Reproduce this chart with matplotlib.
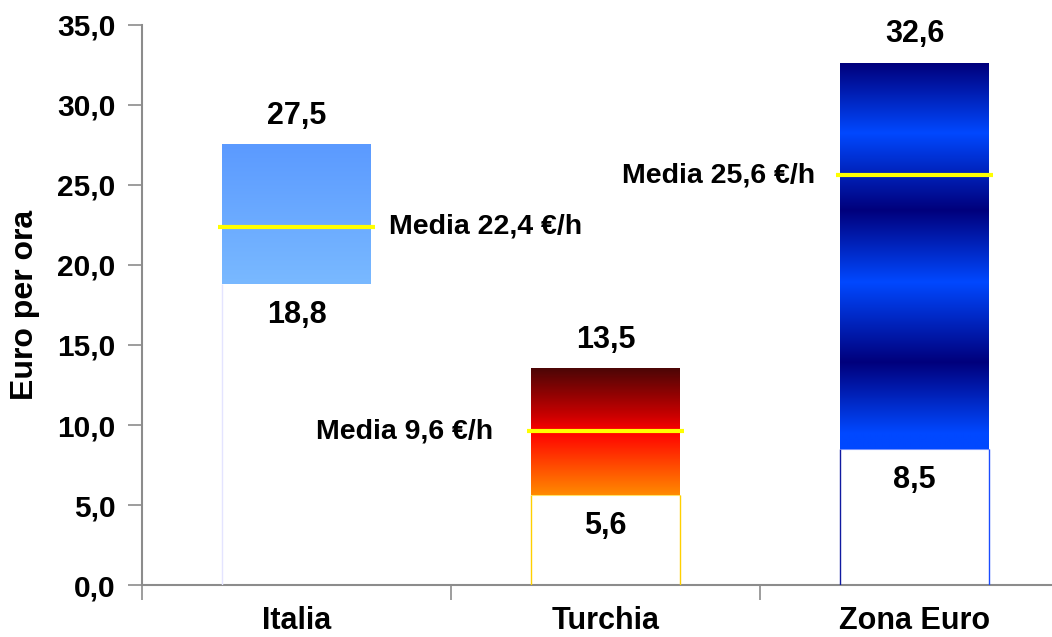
import matplotlib
matplotlib.use("Agg")
import matplotlib.pyplot as plt
import numpy as np
from matplotlib.colors import LinearSegmentedColormap
from matplotlib.ticker import FuncFormatter, FixedLocator

plt.rcParams["font.family"] = ["Liberation Sans", "DejaVu Sans"]
plt.rcParams["font.weight"] = "bold"

paesi = ["Italia", "Turchia", "Zona Euro"]
minimo = [18.8, 5.6, 8.5]
massimo = [27.5, 13.5, 32.6]
media = [22.4, 9.6, 25.6]

# gradienti delle barre (dal basso verso l'alto)
gradienti = [
    LinearSegmentedColormap.from_list("it", ["#79b9ff", "#5b9aff"]),
    LinearSegmentedColormap.from_list("tr", [
        (0.0, "#ff8a00"), (0.50, "#ff0000"), (0.62, "#cc0000"), (1.0, "#4c0606")]),
    LinearSegmentedColormap.from_list("ez", [
        (0.0, "#0048ff"), (0.04, "#0048ff"), (0.224, "#00007c"), (0.432, "#0048ff"),
        (0.62, "#00007c"), (0.82, "#0048ff"), (1.0, "#00007c")]),
]
bordi = [("#e4e4ff", "none"), ("#ffd000", "#ffd000"), ("#101aa0", "#1a4cff")]
lato_media = ["right", "left", "left"]

W = 0.48

def virgola(v, _pos=None):
    return f"{v:.1f}".replace(".", ",")

fig = plt.figure(figsize=(10.52, 6.37), dpi=100)
ax = fig.add_axes([0.135, 0.0816, 0.865, 0.8792])

x = np.arange(len(paesi))
for i, xi in enumerate(x):
    lo, hi = minimo[i], massimo[i]
    grad = np.linspace(0, 1, 256).reshape(-1, 1)
    ax.imshow(grad, cmap=gradienti[i], origin="lower", aspect="auto",
              extent=[xi - W / 2, xi + W / 2, lo, hi], interpolation="bilinear",
              zorder=2)
    # parte bianca sotto il minimo con i bordi sottili
    ax.bar(xi, lo, width=W, color="white", linewidth=0, zorder=2)
    cl, cr = bordi[i]
    ax.vlines(xi - W / 2, 0, lo, color=cl, lw=1.0, zorder=3)
    if cr != "none":
        ax.vlines(xi + W / 2, 0, lo, color=cr, lw=1.0, zorder=3)
        ax.hlines(lo, xi - W / 2, xi + W / 2, color=cr, lw=0.8, zorder=3, alpha=0.6)

    # linea della media
    ax.hlines(media[i], xi - W / 2 - 0.015, xi + W / 2 + 0.015, color="#ffff00",
              lw=3, zorder=4)

    ax.annotate(virgola(hi), (xi, hi), xytext=(0, 29), textcoords="offset pixels",
                ha="center", va="center", fontsize=22, fontweight="bold")
    ax.annotate(virgola(lo), (xi, lo), xytext=(0, -31), textcoords="offset pixels",
                ha="center", va="center", fontsize=22, fontweight="bold")

    testo = f"Media {virgola(media[i])} €/h"
    if lato_media[i] == "right":
        ax.annotate(testo, (xi + W / 2, media[i]), xytext=(18, 0),
                    textcoords="offset pixels", ha="left", va="center",
                    fontsize=20.5, fontweight="bold")
    else:
        gap = -38 if i == 1 else -25
        ax.annotate(testo, (xi - W / 2, media[i]), xytext=(gap, 0),
                    textcoords="offset pixels", ha="right", va="center",
                    fontsize=20.5, fontweight="bold")

ax.set_xlim(-0.5, 2.445)
ax.set_ylim(0, 35)
ax.set_yticks(np.arange(0, 35.1, 5))
ax.yaxis.set_major_formatter(FuncFormatter(virgola))
ax.set_xticks(x)
ax.set_xticklabels(paesi)
ax.xaxis.set_minor_locator(FixedLocator([-0.5, 0.5, 1.5]))

for s in ("top", "right"):
    ax.spines[s].set_visible(False)
for s in ("left", "bottom"):
    ax.spines[s].set_color("#8c8c8c")
    ax.spines[s].set_linewidth(1.5)

ax.tick_params(axis="y", length=10, width=1.2, color="#8c8c8c", pad=9,
               labelsize=21.5)
ax.tick_params(axis="x", which="major", length=0, pad=15, labelsize=22)
ax.tick_params(axis="x", which="minor", length=11, width=1.2, color="#8c8c8c")
for lab in ax.get_xticklabels() + ax.get_yticklabels():
    lab.set_fontweight("bold")

ax.set_ylabel("Euro per ora", fontsize=23, fontweight="bold")
ax.yaxis.set_label_coords(-0.112, 0.5)

fig.savefig("out.png", dpi=100)
